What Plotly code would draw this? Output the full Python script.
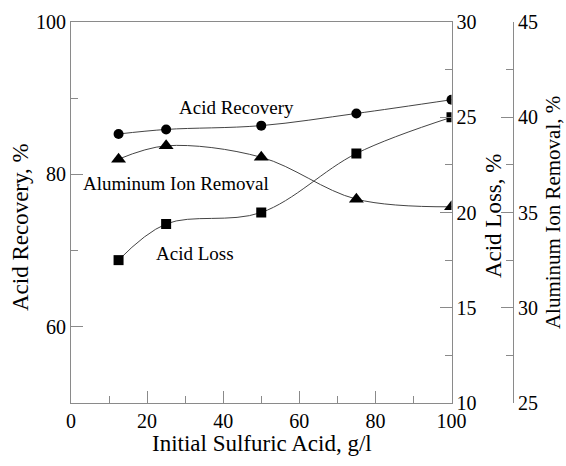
import plotly.graph_objects as go

x_vals = [12.5, 25, 50, 75, 100]
acid_recovery = [85.3, 85.9, 86.4, 88.0, 89.8]
acid_loss = [17.5, 19.4, 20.0, 23.1, 25.0]
al_removal = [37.8, 38.5, 37.9, 35.7, 35.3]

W, H = 566, 466
L, R, T, B = 71, 45, 21.5, 62.7
pw = W - L - R
ph = H - T - B
x_end = (451.5 - L) / pw
y3_pos = (513 - L) / pw

FONT = "Liberation Serif, Times New Roman, serif"
AXC = "#8a8a8a"
LC = "#444444"

fig = go.Figure()
line_style = dict(color=LC, width=1, shape="spline", smoothing=1.0)
fig.add_trace(go.Scatter(x=x_vals, y=acid_recovery, mode="lines+markers", line=line_style,
                         marker=dict(symbol="circle", size=10, color="black"), yaxis="y"))
fig.add_trace(go.Scatter(x=x_vals, y=acid_loss, mode="lines+markers", line=line_style,
                         marker=dict(symbol="square", size=10, color="black"), yaxis="y2"))
fig.add_trace(go.Scatter(x=x_vals, y=al_removal, mode="lines+markers", line=line_style,
                         marker=dict(symbol="triangle-up", size=13, color="black"), yaxis="y3"))

tickfont = dict(family=FONT, size=20, color="black")
titlefont = dict(family=FONT, size=23, color="black")
common = dict(showgrid=False, zeroline=False, showline=True, linecolor=AXC, linewidth=1,
              ticks="inside", ticklen=12, tickcolor=AXC, tickfont=tickfont, automargin=False)

fig.update_layout(
    width=W, height=H, margin=dict(l=L, r=R, t=T, b=B, autoexpand=False),
    font=dict(family=FONT, color="black"),
    paper_bgcolor="white", plot_bgcolor="white", showlegend=False,
    xaxis=dict(domain=[0, x_end], range=[0, 100], dtick=20, mirror=True,
               minor=dict(dtick=10, ticks="inside", ticklen=7, tickcolor=AXC), **common),
    yaxis=dict(range=[50, 100], tickvals=[60, 80, 100],
               minor=dict(tickvals=[70, 90], ticks="inside", ticklen=7, tickcolor=AXC), **common),
    yaxis2=dict(range=[10, 30], dtick=5, overlaying="y", side="right", anchor="x",
                minor=dict(dtick=2.5, ticks="inside", ticklen=7, tickcolor=AXC), **common),
    yaxis3=dict(range=[25, 45], dtick=5, overlaying="y", side="right", anchor="free",
                position=y3_pos,
                minor=dict(dtick=2.5, ticks="inside", ticklen=7, tickcolor=AXC), **common),
)

ann_font = dict(family=FONT, size=19, color="black")
anns = [
    (236, 107, "Acid Recovery", 0, ann_font),
    (176, 183, "Aluminum Ion Removal", 0, ann_font),
    (195, 253, "Acid Loss", 0, ann_font),
    (262, 444, "Initial Sulfuric Acid, g/l", 0, titlefont),
    (20, 227, "Acid Recovery, %", -90, titlefont),
    (493, 216, "Acid Loss, %", -90, titlefont),
    (553, 213, "Aluminum Ion Removal, %", -90, dict(family=FONT, size=21, color="black")),
]
for px, py, txt, ang, fnt in anns:
    fig.add_annotation(x=(px - L) / pw, y=1 - (py - T) / ph, xref="paper", yref="paper",
                       xanchor="center", yanchor="middle",
                       text=txt, textangle=ang, showarrow=False, font=fnt)

fig.write_html("out.html")
